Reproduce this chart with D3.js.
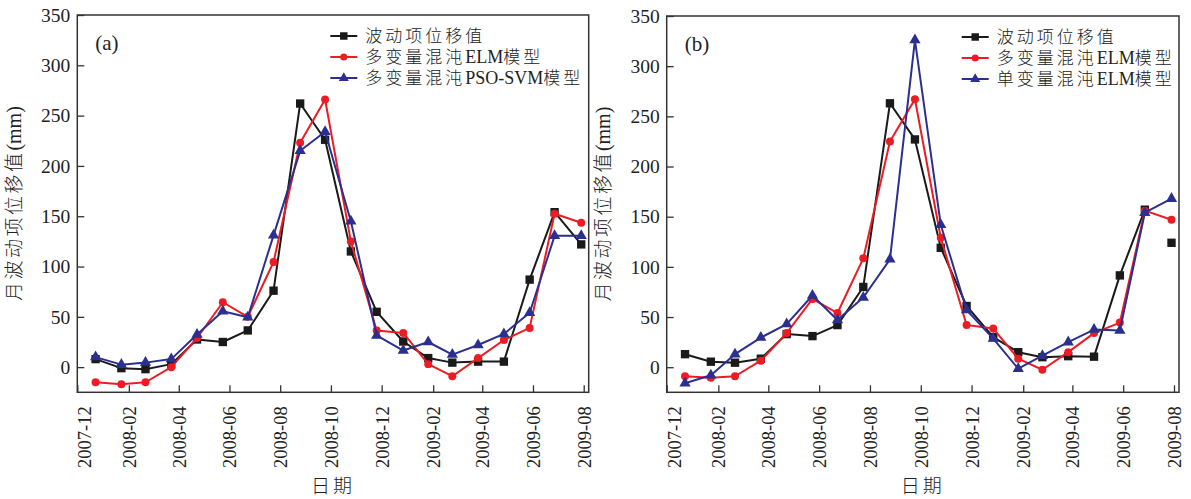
<!DOCTYPE html>
<html>
<head>
<meta charset="utf-8">
<script src="https://cdn.jsdelivr.net/npm/d3@7"></script>
<style>
  body { margin: 0; background: #fff; }
  text, tspan { font-family: "Liberation Serif", "Times New Roman", serif; fill: #222; }
  tspan.cjk { font-family: "Noto Sans CJK SC", sans-serif; font-weight: 300; }
</style>
</head>
<body>
<script>
// point dates (as placed along the time axis in the figure)
var dates = ["2007-12-23", "2008-01-23", "2008-02-21", "2008-03-23", "2008-04-23", "2008-05-24",
  "2008-06-23", "2008-07-24", "2008-08-25", "2008-09-24", "2008-10-25", "2008-11-25",
  "2008-12-27", "2009-01-26", "2009-02-24", "2009-03-27", "2009-04-27", "2009-05-28",
  "2009-06-27", "2009-07-29"];
var tickLabels = ["2007-12", "2008-02", "2008-04", "2008-06", "2008-08", "2008-10",
  "2008-12", "2009-02", "2009-04", "2009-06", "2009-08"];
var yTicks = [0, 50, 100, 150, 200, 250, 300, 350];

// panel (a)
var measuredA = [8, -1, -2, 3, 27.5, 25, 36.5, 76, 262, 226, 115, 55, 25.5, 9, 4.5, 5.5, 5.5, 87, 154, 122];
var elmA = [-15, -17, -15, 0, 29, 64.5, 50, 104.5, 223, 266, 125, 36.5, 34, 3, -9, 9, 27, 39, 152.5, 143.5];
var psoA = [10, 2.5, 4.5, 8, 32.5, 55.5, 49.5, 131, 215, 234, 145, 31.5, 16.5, 25, 12.5, 22, 33, 54, 130.5, 130.5];
// panel (b)
var measuredB = [13, 5.5, 4.5, 8.5, 33, 31, 42, 80, 263, 227, 119, 61, 30, 15, 10, 11, 10.5, 91.5, 157, 124];
var elmB = [-9, -10.5, -9, 6.5, 34, 68, 54, 108.5, 225, 267, 129, 42, 38.5, 8.5, -2.5, 15, 34, 44.5, 156, 147];
var uniB = [-16, -8, 13, 29.5, 43, 71.5, 47, 69.5, 107.5, 326, 142, 57, 28.5, -1.5, 11.5, 25, 37.5, 36.5, 154, 168];

var namesA = ["波动项位移值", "多变量混沌ELM模型", "多变量混沌PSO-SVM模型"];
var namesB = ["波动项位移值", "多变量混沌ELM模型", "单变量混沌ELM模型"];

var colors = ["#1a1a1a", "#ec1c24", "#2b3090"],
  shapes = [d3.symbolSquare, d3.symbolCircle, d3.symbolTriangle],
  shapeSize = [70, 50, 55];

var parseDay = d3.timeParse("%Y-%m-%d"),
  parseMonth = d3.timeParse("%Y-%m");

var svg = d3.select("body").append("svg")
  .attr("width", 1191)
  .attr("height", 499);

// writes CJK runs with a bit of spacing, latin runs plain
function mixedText(sel, str, size, spacing) {
  var runs = str.match(/[\u4e00-\u9fff]+|[^\u4e00-\u9fff]+/g);
  runs.forEach(function (r) {
    var cjk = /[\u4e00-\u9fff]/.test(r);
    sel.append("tspan")
      .attr("class", cjk ? "cjk" : "lat")
      .style("font-size", (cjk ? size : size + 1) + "px")
      .style("letter-spacing", cjk ? spacing + "px" : "0px")
      .text(r);
  });
}

function drawPanel(cfg) {
  var w = cfg.w, h = cfg.h;
  var g = svg.append("g").attr("transform", "translate(" + cfg.left + "," + cfg.top + ")");

  var x = d3.scaleTime()
    .domain([parseDay("2007-12-01"), parseDay("2009-08-07")])
    .range([0, w]);
  var y = d3.scaleLinear().domain([-25, 350]).range([h, 0]);

  // axes, ticks pointing inward
  var xAxis = g.append("g")
    .attr("transform", "translate(0," + h + ")")
    .call(d3.axisBottom(x)
      .tickValues(tickLabels.map(parseMonth))
      .tickSizeInner(-7).tickSizeOuter(0)
      .tickFormat(d3.timeFormat("%Y-%m")));
  xAxis.selectAll("text")
    .attr("transform", "rotate(-90)")
    .attr("text-anchor", "end")
    .attr("x", -14)
    .attr("y", function (d, i) { return i === 0 ? 7 : 0; })
    .attr("dy", "0.35em")
    .style("font-size", "18.5px");

  var yAxis = g.append("g")
    .call(d3.axisLeft(y)
      .tickValues(yTicks)
      .tickSizeInner(-7).tickSizeOuter(0)
      .tickPadding(7));
  yAxis.selectAll("text").style("font-size", "19.5px");

  g.selectAll(".domain").remove();
  xAxis.attr("font-family", null).attr("font-size", null);
  yAxis.attr("font-family", null).attr("font-size", null);
  g.selectAll(".tick line").attr("stroke", "#333").attr("stroke-width", 1.3);
  g.selectAll(".tick text").attr("fill", "#222");

  g.append("rect")
    .attr("width", w).attr("height", h)
    .attr("fill", "none")
    .attr("stroke", "#333")
    .attr("stroke-width", 1.5);

  var line = d3.line()
    .x(function (d) { return x(d.date); })
    .y(function (d) { return y(d.value); });

  cfg.series.forEach(function (s, k) {
    var pts = s.map(function (v, i) { return { date: parseDay(dates[i]), value: v }; });
    var linePts = (cfg.lastLoose && k === 0) ? pts.slice(0, pts.length - 1) : pts;
    g.append("path")
      .datum(linePts)
      .attr("fill", "none")
      .attr("stroke", colors[k])
      .attr("stroke-width", 2)
      .attr("stroke-linejoin", "round")
      .attr("d", line);
    g.selectAll(".m" + k)
      .data(pts).enter()
      .append("path")
      .attr("class", "m" + k)
      .attr("transform", function (d) { return "translate(" + x(d.date) + "," + y(d.value) + ")"; })
      .attr("d", d3.symbol().type(shapes[k]).size(shapeSize[k]))
      .attr("fill", colors[k]);
  });

  // panel tag
  g.append("text")
    .attr("x", 18).attr("y", 35)
    .style("font-size", "21px")
    .text(cfg.tag);

  // legend
  var lg = g.append("g").attr("transform", "translate(" + cfg.legendX + ",0)");
  cfg.names.forEach(function (n, k) {
    var yy = 21 + k * 21;
    lg.append("line")
      .attr("x1", 0).attr("x2", 27).attr("y1", yy).attr("y2", yy)
      .attr("stroke", colors[k]).attr("stroke-width", 2);
    lg.append("path")
      .attr("transform", "translate(13.5," + yy + ")")
      .attr("d", d3.symbol().type(shapes[k]).size(shapeSize[k] * 0.8))
      .attr("fill", colors[k]);
    var t = lg.append("text")
      .attr("x", 35).attr("y", yy)
      .attr("dy", "0.36em");
    mixedText(t, n, 17, 3);
  });

  // axis titles
  var yl = g.append("text")
    .attr("transform", "translate(" + (-62) + "," + (h / 2) + ") rotate(-90)")
    .attr("text-anchor", "middle")
    .attr("dy", "0.35em");
  mixedText(yl, "月波动项位移值(mm)", 19, 2.5);

  var xl = g.append("text")
    .attr("x", w / 2).attr("y", h + 101)
    .attr("text-anchor", "middle");
  mixedText(xl, "日期", 19, 3);
}

drawPanel({
  left: 77.3, top: 15, w: 511.4, h: 377.3,
  series: [measuredA, elmA, psoA], names: namesA,
  tag: "(a)", legendX: 253, lastLoose: false
});
drawPanel({
  left: 666.7, top: 16, w: 512.3, h: 376.3,
  series: [measuredB, elmB, uniB], names: namesB,
  tag: "(b)", legendX: 295, lastLoose: true
});
</script>
</body>
</html>
